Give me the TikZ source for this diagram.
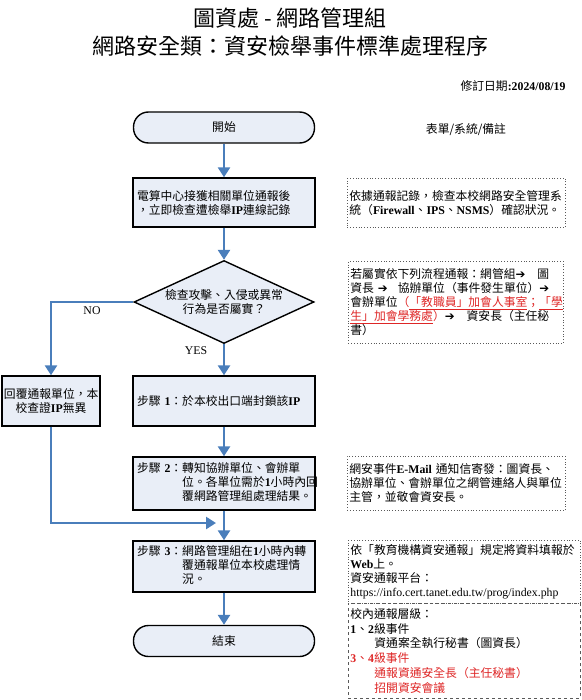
\documentclass[tikz,border=0pt]{standalone}
\usepackage{fontspec}
\setmainfont{Noto Sans CJK TC}
\newfontfamily\lat{Liberation Serif}
\newfontfamily\dv{DejaVu Sans}
\usetikzlibrary{arrows.meta,shapes.geometric}
\newcommand\lb[1]{{\lat\bfseries #1}}
\newcommand\lr[1]{{\lat #1}}
\newcommand\rarr{{\dv ➔}}
\definecolor{flowblue}{RGB}{74,126,187}
\definecolor{boxfill}{RGB}{233,238,247}
\definecolor{redtxt}{RGB}{222,38,38}
\begin{document}
\begin{tikzpicture}[x=1pt,y=-1pt,
  every node/.style={font=\fontsize{11.8}{14}\selectfont},
  titlefont/.style={font=\fontsize{22}{26}\selectfont},
  flowbox/.style={draw=black, line width=1.4pt, fill=boxfill, inner xsep=4pt, inner ysep=0pt, align=left, anchor=center},
  term/.style={draw=black, line width=1.4pt, fill=boxfill, rounded corners=15pt, minimum width=181pt, minimum height=31pt, inner sep=0pt},
  decision/.style={diamond, draw=black, line width=1.4pt, fill=boxfill, aspect=2.17, minimum width=180pt, minimum height=83pt, inner sep=0pt, align=center},
  note/.style={draw=black!65, dotted, line width=0.8pt, inner xsep=2pt, inner ysep=0pt, align=left, anchor=north west},
  flow/.style={draw=flowblue, line width=2.6pt, -{Triangle[width=12pt,length=10pt]}},
  lbl/.style={font=\fontsize{11.8}{14}\selectfont\lat}
]
\useasboundingbox (0,0) rectangle (581,700);

% titles
\node[titlefont] (t1) at (290,18) {圖資處 - 網路管理組};
\node[titlefont] (t2) at (290,46) {網路安全類：資安檢舉事件標準處理程序};
\node[anchor=east] (rev) at (569,86) {修訂日期\lb{:2024/08/19}};
\node (hdr) at (466,130) {表單/系統/備註};

% flow column
\node[term] (start) at (224,127.5) {開始};
\node[flowbox, text width=174pt, minimum height=49pt] (box1) at (224,202.5)
  {電算中心接獲相關單位通報後\\，立即檢查遭檢舉\lb{IP}連線記錄};
\node[decision] (dia) at (224,302) {檢查攻擊、入侵或異常\\行為是否屬實？};
\node[flowbox, text width=94pt, align=center, inner xsep=2pt, minimum height=50pt] (left) at (51,401)
  {回覆通報單位，本\\校查證\lb{IP}無異};
\node[flowbox, text width=174pt, minimum height=50pt] (step1) at (224,401)
  {步驟 \lb{1}：於本校出口端封鎖該\lb{IP}};
\node[flowbox, text width=174pt, minimum height=53pt] (step2) at (224,483.5)
  {\begin{tabular}{@{}l@{}l@{}}步驟 \lb{2}：&轉知協辦單位、會辦單\\&位。各單位需於\lb{1}小時內回\\&覆網路管理組處理結果。\end{tabular}};
\node[flowbox, text width=174pt, minimum height=51pt] (step3) at (224,566.5)
  {\begin{tabular}{@{}l@{}l@{}}步驟 \lb{3}：&網路管理組在\lb{1}小時內轉\\&覆通報單位本校處理情\\&況。\end{tabular}};
\node[term] (end) at (224,641) {結束};

% labels
\node[lbl] (no) at (92,311) {NO};
\node[lbl] (yes) at (196,351) {YES};

% connectors
\draw[flow] (start) -- (box1);
\draw[flow] (box1) -- (dia);
\draw[flow] (dia) -- (step1);
\draw[flow] (dia.west) -| (left.north);
\draw[flow] (step1) -- (step2);
\draw[flow] (step2) -- (step3);
\draw[flow] (step3) -- (end);
\coordinate (join) at (216,523);
\draw[flow] (left.south) |- (join);

% notes
\node[note, text width=214pt, minimum height=49pt] (nA) at (347,178)
  {依據通報記錄，檢查本校網路安全管理系\\統（\lb{Firewall}、\lb{IPS}、\lb{NSMS}）確認狀況。};
\node[note, text width=211pt, minimum height=82pt] (nB) at (348,261)
  {若屬實依下列流程通報：網管組\rarr\hspace{12pt}圖\\
   資長 \rarr\hspace{10pt}協辦單位（事件發生單位）\rarr\\
   會辦單位\textcolor{redtxt}{（\underline{「教職員」加會人事室}；\underline{「學}}\\
   \textcolor{redtxt}{\underline{生」加會學務處}）}\rarr\hspace{12pt}資安長（主任秘\\
   書）};
\node[note, text width=214pt, minimum height=54pt] (nC) at (347,456)
  {網安事件\lb{E-Mail} 通知信寄發：圖資長、\\協辦單位、會辦單位之網管連絡人與單位\\主管，並敬會資安長。};
\node[note, text width=228pt, minimum height=63pt] (nD) at (348,540)
  {依「教育機構資安通報」規定將資料填報於\\\lb{Web}上。\\資安通報平台：\\\lr{https://info.cert.tanet.edu.tw/prog/index.php}};
\node[note, dashed, text width=228pt, minimum height=95pt, font=\fontsize{11.8}{14.8}\selectfont] (nE) at (348,603)
  {校內通報層級：\\\lb{1}、\lb{2}級事件\\\hspace*{24pt}資通案全執行秘書（圖資長）\\
   \textcolor{redtxt}{\lb{3}、\lb{4}級事件}\\
   \textcolor{redtxt}{\hspace*{24pt}通報資通安全長（主任秘書）}\\
   \textcolor{redtxt}{\hspace*{24pt}招開資安會議}};
\end{tikzpicture}
\end{document}
